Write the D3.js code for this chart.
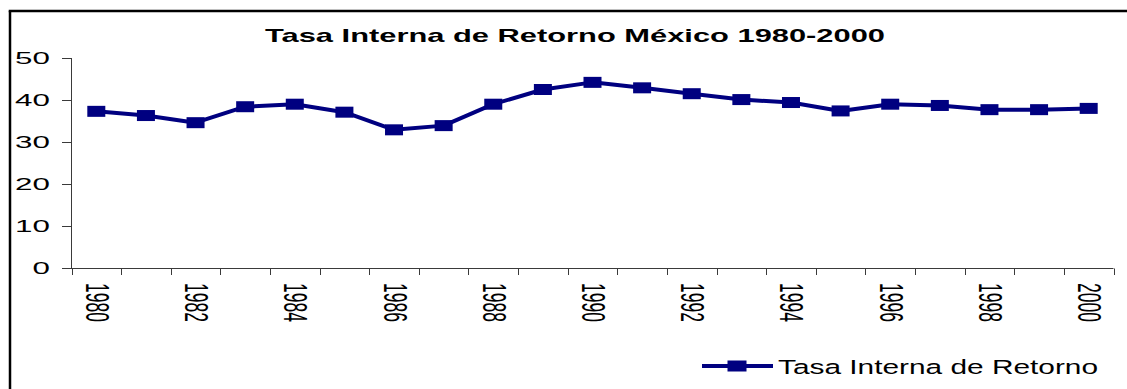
<!DOCTYPE html>
<html>
<head>
<meta charset="utf-8">
<script src="https://cdn.jsdelivr.net/npm/d3@7"></script>
<style>
  html, body { margin: 0; padding: 0; background: #fff; overflow: hidden; }
  svg { display: block; overflow: hidden; font-family: Arial, "Liberation Sans", sans-serif; }
</style>
</head>
<body>
<svg id="chart" width="1127" height="389"></svg>
<script>
// Internal rate of return, Mexico, 1980-2000
const years = [1980, 1981, 1982, 1983, 1984, 1985, 1986, 1987, 1988, 1989, 1990,
               1991, 1992, 1993, 1994, 1995, 1996, 1997, 1998, 1999, 2000];
const tir = [37.3, 36.3, 34.6, 38.4, 39.0, 37.1, 32.9, 33.9, 39.0, 42.5, 44.2,
             42.9, 41.5, 40.1, 39.4, 37.4, 39.0, 38.7, 37.7, 37.7, 38.0];
const yTicks = [0, 10, 20, 30, 40, 50];
const xLabelYears = [1980, 1982, 1984, 1986, 1988, 1990, 1992, 1994, 1996, 1998, 2000];
const titleText = "Tasa Interna de Retorno México 1980-2000";
const seriesName = "Tasa Interna de Retorno";

const svg = d3.select("#chart");
const navy = "#000080";
const axisColor = "#3a3a3a";
const stretch = 1.9; // wide glyph proportions of the axis labels

const x = d3.scaleBand().domain(years).range([71.5, 1113.5]).padding(0);
const y = d3.scaleLinear().domain([0, 50]).range([268, 58]);

// outer frame: only its left and top edges fall inside the view
const frame = svg.append("g").attr("stroke", "#000").attr("stroke-width", 2.5);
frame.append("line").attr("x1", 10).attr("x2", 10).attr("y1", 10.75).attr("y2", 389);
frame.append("line").attr("x1", 8.75).attr("x2", 1127).attr("y1", 11).attr("y2", 11);

// title
svg.append("text")
  .attr("x", 265).attr("y", 42)
  .attr("textLength", 620).attr("lengthAdjust", "spacingAndGlyphs")
  .attr("font-size", 19).attr("font-weight", "bold").attr("fill", "#000")
  .text(titleText);

// y axis
const yAxis = svg.append("g");
yAxis.append("line")
  .attr("x1", 71.5).attr("x2", 71.5).attr("y1", y(50)).attr("y2", y(0))
  .attr("stroke", axisColor).attr("stroke-width", 1);
yAxis.selectAll("line.tick").data(yTicks).join("line")
  .attr("class", "tick")
  .attr("x1", 62).attr("x2", 71.5)
  .attr("y1", d => Math.round(y(d)) + 0.5).attr("y2", d => Math.round(y(d)) + 0.5)
  .attr("stroke", axisColor).attr("stroke-width", 1);
yAxis.selectAll("text").data(yTicks).join("text")
  .attr("transform", d => `translate(50,${y(d)}) scale(${stretch},1)`)
  .attr("text-anchor", "end").attr("dy", "0.36em")
  .attr("font-size", 16.5).attr("fill", "#000")
  .text(d => d);

// x axis
const xAxis = svg.append("g");
const bounds = years.map(d => x(d)).concat([x.range()[1]]);
xAxis.append("line")
  .attr("x1", 62).attr("x2", 1113.5)
  .attr("y1", 268.5).attr("y2", 268.5)
  .attr("stroke", axisColor).attr("stroke-width", 1);
xAxis.selectAll("line.tick").data(bounds).join("line")
  .attr("class", "tick")
  .attr("x1", d => Math.round(d) + 0.5).attr("x2", d => Math.round(d) + 0.5)
  .attr("y1", 268.5).attr("y2", 275)
  .attr("stroke", axisColor).attr("stroke-width", 1);
xAxis.selectAll("text").data(xLabelYears).join("text")
  .attr("transform", d => `translate(${x(d) + x.bandwidth() / 2 + 1.5},283) scale(${stretch},1) rotate(90)`)
  .attr("text-anchor", "start").attr("dy", "0.36em")
  .attr("font-size", 17.5).attr("fill", "#000")
  .text(d => d);

// series line and markers
const pts = years.map((d, i) => [x(d) + x.bandwidth() / 2, y(tir[i])]);
svg.append("path")
  .attr("d", d3.line()(pts))
  .attr("fill", "none").attr("stroke", navy).attr("stroke-width", 4)
  .attr("stroke-linejoin", "round");
const mw = 18, mh = 11;
svg.selectAll("rect.marker").data(pts).join("rect")
  .attr("class", "marker")
  .attr("x", d => d[0] - mw / 2).attr("y", d => d[1] - mh / 2)
  .attr("width", mw).attr("height", mh)
  .attr("fill", navy);

// legend
const lg = svg.append("g");
lg.append("line")
  .attr("x1", 702).attr("x2", 773).attr("y1", 366).attr("y2", 366)
  .attr("stroke", navy).attr("stroke-width", 4);
lg.append("rect")
  .attr("x", 737 - mw / 2 - 0.5).attr("y", 366 - mh / 2)
  .attr("width", mw + 1).attr("height", mh)
  .attr("fill", navy);
lg.append("text")
  .attr("x", 778).attr("y", 374)
  .attr("textLength", 320).attr("lengthAdjust", "spacingAndGlyphs")
  .attr("font-size", 20.5).attr("fill", "#000")
  .text(seriesName);
</script>
</body>
</html>
